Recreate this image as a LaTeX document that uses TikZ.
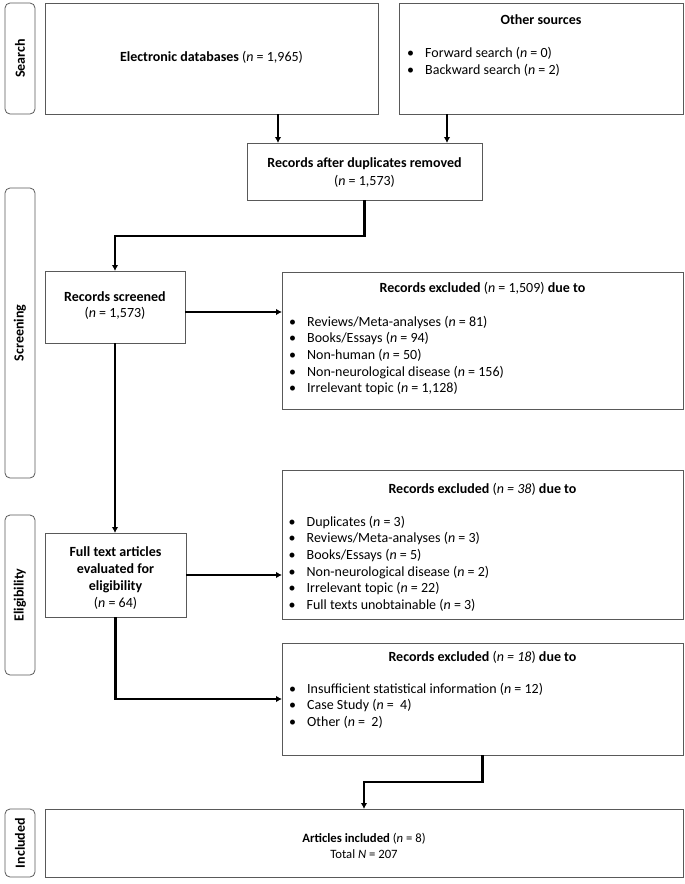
\documentclass[tikz,border=0pt]{standalone}
\usepackage{fontspec}
\setmainfont{Carlito}
\usepackage{graphicx}
\usetikzlibrary{arrows.meta}
\newcommand{\nn}{\textit{n}}
\newcommand{\bul}{\makebox[18pt][l]{\textbullet}}
\begin{document}
\begin{tikzpicture}[x=1pt,y=-1pt,
  box/.style={draw=black!65, line width=0.8pt, anchor=north west, inner sep=0pt, outer sep=0pt},
  lbl/.style={box, rounded corners=5pt, font=\fontsize{14}{16}\selectfont\bfseries},
  txt/.style={inner sep=0pt, font=\fontsize{14}{16.7}\selectfont, align=center},
  lst/.style={inner sep=0pt, font=\fontsize{14}{16.7}\selectfont, align=left, anchor=north west},
  conn/.style={line width=2.2pt, -{Latex[length=6pt,width=6.5pt]}}
]
\useasboundingbox (0,0) rectangle (685,884);

% side labels
\node[lbl, minimum width=30pt, minimum height=111pt] (search) at (5,3) {\rotatebox{90}{Search}};
\node[lbl, minimum width=30pt, minimum height=290pt] (screening) at (5,188) {\rotatebox{90}{Screening}};
\node[lbl, minimum width=30pt, minimum height=160pt] (eligibility) at (5,515) {\rotatebox{90}{Eligibility}};
\node[lbl, minimum width=30pt, minimum height=68pt] (included) at (5,809) {\rotatebox{90}{Included}};

% boxes
\node[box, minimum width=333pt, minimum height=111pt] (elec) at (45,3) {};
\node[box, minimum width=284pt, minimum height=111pt] (other) at (399,3) {};
\node[box, minimum width=235pt, minimum height=57pt] (dup) at (247,143) {};
\node[box, minimum width=140pt, minimum height=72pt] (screened) at (45,271) {};
\node[box, minimum width=401pt, minimum height=137pt] (excl1) at (282,272) {};
\node[box, minimum width=141pt, minimum height=84pt] (full) at (45,533) {};
\node[box, minimum width=401pt, minimum height=149pt] (excl2) at (282,470) {};
\node[box, minimum width=401pt, minimum height=112pt] (excl3) at (282,643) {};
\node[box, minimum width=638pt, minimum height=68pt] (incl) at (45,809) {};

% texts
\node[txt] (elecT) at (211.5,57) {\textbf{Electronic databases} (\nn{} = 1,965)};
\node[txt] (otherT) at (541,20) {\textbf{Other sources}};
\node[lst, font=\fontsize{14}{17}\selectfont] (otherL) at (407,45.2) {\strut\bul Forward search (\nn{} = 0)\\\bul Backward search (\nn{} = 2)};
\node[txt, font=\fontsize{14}{18}\selectfont] (dupT) at (364.5,173) {\textbf{Records after duplicates removed}\\(\nn{} = 1,573)};
\node[txt, font=\fontsize{14}{16}\selectfont] (screenedT) at (115,306) {\textbf{Records screened}\\(\nn{} = 1,573)};
\node[txt] (excl1T) at (482.5,288) {\textbf{Records excluded} (\nn{} = 1,509) \textbf{due to}};
\node[lst] (excl1L) at (289,314.2) {\strut\bul Reviews/Meta-analyses (\nn{} = 81)\\\bul Books/Essays (\nn{} = 94)\\\bul Non-human (\nn{} = 50)\\\bul Non-neurological disease (\nn{} = 156)\\\bul Irrelevant topic (\nn{} = 1,128)};
\node[txt, font=\fontsize{14}{17}\selectfont] (fullT) at (115.5,578.5) {\textbf{Full text articles}\\\textbf{evaluated for}\\\textbf{eligibility}\\(\nn{} = 64)};
\node[txt] (excl2T) at (482.5,489) {\textbf{Records excluded} (\textit{n = 38}) \textbf{due to}};
\node[lst] (excl2L) at (288.5,514.2) {\strut\bul Duplicates (\nn{} = 3)\\\bul Reviews/Meta-analyses (\nn{} = 3)\\\bul Books/Essays (\nn{} = 5)\\\bul Non-neurological disease (\nn{} = 2)\\\bul Irrelevant topic (\nn{} = 22)\\\bul Full texts unobtainable (\nn{} = 3)};
\node[txt] (excl3T) at (482.5,657) {\textbf{Records excluded} (\textit{n = 18}) \textbf{due to}};
\node[lst] (excl3L) at (289,681.2) {\strut\bul Insufficient statistical information (\nn{} = 12)\\\bul Case Study (\nn{} = \ 4)\\\bul Other (\nn{} = \ 2)};
\node[txt, font=\fontsize{12.7}{16}\selectfont] (inclT) at (364,846) {\textbf{Articles included} (\nn{} = 8)\\Total \textit{N} = 207};

% connectors
\coordinate (e1) at ([xshift=233pt]elec.south west);
\coordinate (o1) at ([xshift=48pt]other.south west);
\coordinate (s1) at ([yshift=-5pt]screened.east);
\draw[conn] (e1) -- (e1 |- dup.north);
\draw[conn] (o1) -- (o1 |- dup.north);
\draw[conn] (dup.south) -- ++(0,36) -| (screened.north);
\draw[conn] (s1) -- (s1 -| excl1.west);
\draw[conn] (screened.south) -- (screened.south |- full.north);
\draw[conn] (full.east) -- (full.east -| excl2.west);
\draw[conn] (full.south) |- (excl3.west);
\draw[conn] (excl3.south) -- ++(0,27) -| (incl.north);
\end{tikzpicture}
\end{document}
